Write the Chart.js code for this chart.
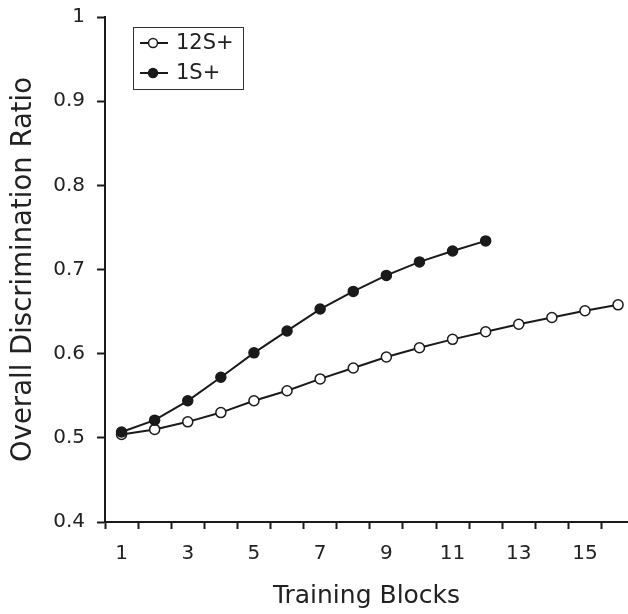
<!DOCTYPE html>
<html>
<head>
<meta charset="utf-8">
<title>Overall Discrimination Ratio</title>
<script src="https://cdn.jsdelivr.net/npm/chart.js@4.4.1/dist/chart.umd.min.js"></script>
<style>
  body { margin: 0; background: #fff; }
  #wrap { width: 628px; height: 614px; }
</style>
</head>
<body>
<div id="wrap"><canvas id="chart" width="628" height="614"></canvas></div>
<script>
// values
var blocks12 = [1, 2, 3, 4, 5, 6, 7, 8, 9, 10, 11, 12, 13, 14, 15, 16];
var ratio12 = [0.504, 0.510, 0.519, 0.530, 0.544, 0.556, 0.570, 0.583, 0.596, 0.607, 0.617, 0.626, 0.635, 0.643, 0.651, 0.658];
var blocks1 = [1, 2, 3, 4, 5, 6, 7, 8, 9, 10, 11, 12];
var ratio1 = [0.507, 0.521, 0.544, 0.572, 0.601, 0.627, 0.653, 0.674, 0.693, 0.709, 0.722, 0.734];
var seriesNames = ["12S+", "1S+"];
var xTickLabels = ["1", "3", "5", "7", "9", "11", "13", "15"];

var ink = "#1a1a1a";
var textCol = "#222";

function pts(xs, ys) {
  return xs.map((x, i) => ({ x: x, y: ys[i] }));
}

// no extra room for the edge labels, plot fills to the edges
function noPad(scale) {
  scale.paddingLeft = 0;
  scale.paddingRight = 0;
  scale.paddingTop = 0;
  scale.paddingBottom = 0;
}

// legend in a box, top-left of plot
var boxLegend = {
  id: "boxLegend",
  afterDraw(chart) {
    const ctx = chart.ctx;
    const x0 = 133, y0 = 27, w = 110, h = 62;
    ctx.save();
    ctx.strokeStyle = "#333";
    ctx.lineWidth = 1;
    ctx.strokeRect(x0 + 0.5, y0 + 0.5, w, h);
    const rows = [
      { label: seriesNames[0], fill: "#fff", y: y0 + 16 },
      { label: seriesNames[1], fill: ink, y: y0 + 46 }
    ];
    rows.forEach(r => {
      ctx.strokeStyle = ink;
      ctx.lineWidth = 2;
      ctx.beginPath();
      ctx.moveTo(x0 + 7, r.y);
      ctx.lineTo(x0 + 35, r.y);
      ctx.stroke();
      ctx.beginPath();
      ctx.arc(x0 + 20, r.y, 4.5, 0, Math.PI * 2);
      ctx.fillStyle = r.fill;
      ctx.fill();
      ctx.lineWidth = 1.5;
      ctx.stroke();
      ctx.fillStyle = textCol;
      ctx.font = "21px 'DejaVu Sans'";
      ctx.textBaseline = "middle";
      ctx.textAlign = "left";
      ctx.fillText(r.label, x0 + 43, r.y + 1);
    });
    ctx.restore();
  }
};

var ctx = document.getElementById("chart");
new Chart(ctx, {
  type: "line",
  data: {
    datasets: [
      {
        label: seriesNames[1],
        data: pts(blocks1, ratio1),
        borderColor: ink,
        borderWidth: 2,
        pointRadius: 5,
        pointBackgroundColor: ink,
        pointBorderColor: ink,
        pointBorderWidth: 1.5,
        tension: 0
      },
      {
        label: seriesNames[0],
        data: pts(blocks12, ratio12),
        borderColor: ink,
        borderWidth: 2,
        pointRadius: 5,
        pointBackgroundColor: "#fff",
        pointBorderColor: ink,
        pointBorderWidth: 1.5,
        tension: 0
      }
    ]
  },
  options: {
    responsive: false,
    animation: false,
    layout: { autoPadding: false, padding: { top: 17, right: 0, left: 0, bottom: 0 } },
    plugins: {
      legend: { display: false },
      tooltip: { enabled: false }
    },
    scales: {
      x: {
        type: "linear",
        min: 0.5,
        max: 16.3,
        afterFit(scale) { scale.height = 92; noPad(scale); },
        afterBuildTicks(scale) {
          var t = [];
          for (var v = 0.5; v <= 15.5; v++) t.push({ value: v });
          scale.ticks = t;
        },
        border: { display: true, color: ink, width: 2 },
        grid: { drawOnChartArea: false, drawTicks: true, tickLength: 7, tickColor: ink, tickWidth: 2 },
        ticks: {
          autoSkip: false,
          maxRotation: 0,
          padding: 13,
          labelOffset: 16.55,
          color: textCol,
          font: { family: "'DejaVu Sans'", size: 20 },
          callback(v) {
            var n = String(v + 0.5);
            return xTickLabels.indexOf(n) >= 0 ? n : "";
          }
        },
        title: {
          display: true,
          text: "Training Blocks",
          color: textCol,
          font: { family: "'DejaVu Sans'", size: 25 },
          padding: { top: 0, bottom: 3 }
        }
      },
      y: {
        min: 0.4,
        max: 1,
        afterFit(scale) { scale.width = 105; noPad(scale); },
        border: { display: true, color: ink, width: 2 },
        grid: { drawOnChartArea: false, drawTicks: true, tickLength: 8, tickColor: ink, tickWidth: 2 },
        ticks: {
          stepSize: 0.1,
          padding: 12,
          color: textCol,
          font: { family: "'DejaVu Sans'", size: 20 },
          callback(v) {
            var r = Math.round(v * 10) / 10;
            return r === 1 ? "1" : r.toFixed(1);
          }
        },
        title: {
          display: true,
          text: "Overall Discrimination Ratio",
          color: textCol,
          font: { family: "'DejaVu Sans'", size: 27.5 },
          padding: { top: 7, bottom: 0 }
        }
      }
    }
  },
  plugins: [boxLegend]
});
</script>
</body>
</html>
